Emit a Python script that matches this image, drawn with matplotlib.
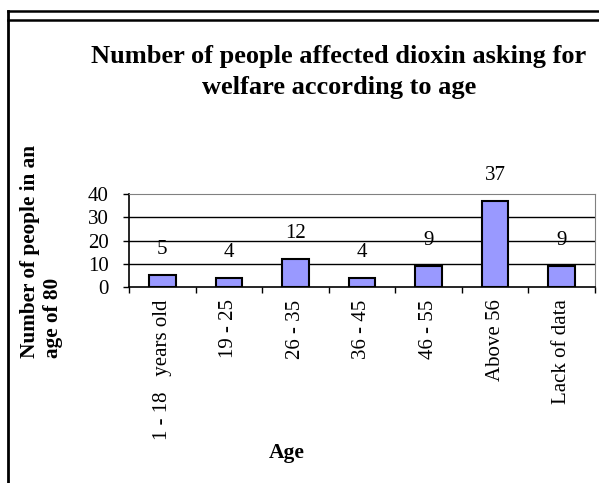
import matplotlib
matplotlib.use("Agg")
import matplotlib.pyplot as plt
from matplotlib.lines import Line2D
import numpy as np

plt.rcParams['font.family'] = ['Liberation Serif', 'DejaVu Serif']

categories = ['1 - 18   years old', '19 - 25', '26 - 35', '36 - 45', '46 - 55', 'Above 56', 'Lack of data']
people = [5, 4, 12, 4, 9, 37, 9]
yticks = [0, 10, 20, 30, 40]

W, H = 599, 483
fig = plt.figure(figsize=(W / 100, H / 100), dpi=100)
ax = fig.add_axes([129 / W, 1 - 287 / H, (595 - 129) / W, (287 - 194) / H])

x = np.arange(len(categories))
ax.bar(x, people, width=0.4, color='#9999FF', edgecolor='black', linewidth=1.5, zorder=3)
for xi, v in zip(x, people):
    ax.annotate(str(v), (xi, v), xytext=(0, 18.5), textcoords='offset points',
                ha='center', va='center', fontsize=15)

ax.set_xlim(-0.5, len(categories) - 0.5)
ax.set_ylim(0, 40)
ax.set_yticks(yticks)
ax.set_yticklabels([str(t) for t in yticks], fontsize=15)
ax.tick_params(axis='y', direction='out', length=4.5, width=1, pad=10)
for t in yticks[1:4]:
    ax.axhline(t, color='black', linewidth=1, zorder=1)

ax.set_xticks(x)
ax.set_xticklabels(categories, rotation=90, fontsize=15, va='top')
ax.tick_params(axis='x', which='major', length=0, pad=9)
ax.set_xticks(np.arange(len(categories) + 1) - 0.5, minor=True)
ax.tick_params(axis='x', which='minor', direction='out', length=4.5, width=1)

ax.spines['top'].set_color('#808080')
ax.spines['right'].set_color('#808080')
ax.spines['left'].set_linewidth(1.2)
ax.spines['bottom'].set_linewidth(1.2)

ax.set_xlabel('Age', fontsize=15.5, fontweight='bold')
ax.xaxis.set_label_coords(287 / W, 1 - 443 / H, transform=fig.transFigure)

fig.text(42 / W, 1 - 251 / H, 'Number of people in an\nage of 80', rotation=90,
         ha='center', va='center', multialignment='left', fontsize=15.3, fontweight='bold')

fig.text(339 / W, 1 - 63 / H, 'Number of people affected dioxin asking for',
         ha='center', va='baseline', fontsize=19, fontweight='bold')
fig.text(339 / W, 1 - 94 / H, 'welfare according to age',
         ha='center', va='baseline', fontsize=19, fontweight='bold')

# outer frame
fig.add_artist(Line2D([7.5 / W, 7.5 / W], [0, 1 - 11 / H], color='black', linewidth=2, transform=fig.transFigure))
fig.add_artist(Line2D([7.5 / W, 1], [1 - 11 / H, 1 - 11 / H], color='black', linewidth=1.8, transform=fig.transFigure))
fig.add_artist(Line2D([7.5 / W, 1], [1 - 20 / H, 1 - 20 / H], color='black', linewidth=1.8, transform=fig.transFigure))

fig.savefig('out.png', dpi=100)
